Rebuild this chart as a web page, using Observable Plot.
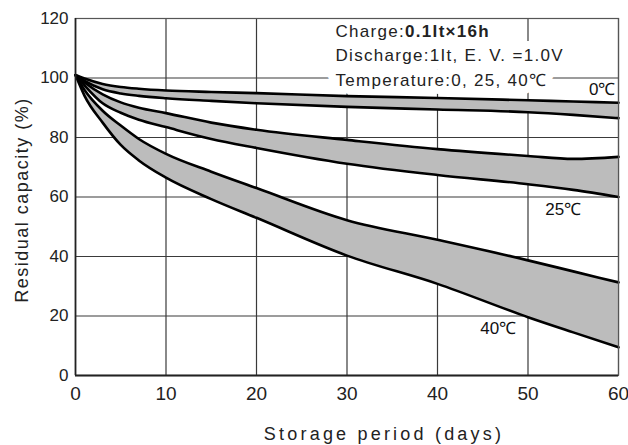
<!DOCTYPE html>
<html><head><meta charset="utf-8">
<script src="https://cdn.jsdelivr.net/npm/d3@7"></script>
<script src="https://cdn.jsdelivr.net/npm/@observablehq/plot@0.6"></script>
<style>
html,body{margin:0;padding:0;background:#fff;}
</style></head><body><div id="chart"></div>
<script>
// Storage days sampled along the curves
const days   = [0, 1, 3, 5, 7, 10, 15, 20, 30, 40, 50, 55, 60];
// Residual capacity (%) — upper / lower envelope of each temperature band
const upper0  = [101, 99.8, 98.0, 97.0, 96.4, 95.8, 95.3, 94.9, 93.9, 93.3, 92.5, 92.1, 91.7];
const lower0  = [101, 99.0, 96.2, 94.8, 94.0, 93.2, 92.3, 91.5, 90.3, 89.4, 88.5, 87.6, 86.5];
const upper25 = [101, 98.5, 94.5, 91.8, 90.0, 88.2, 85.0, 82.6, 79.2, 76.1, 73.8, 72.8, 73.5];
const lower25 = [101, 97.5, 91.5, 88.3, 86.0, 83.5, 79.5, 76.5, 71.2, 67.4, 64.3, 62.4, 60.0];
const upper40 = [101, 96.0, 89.0, 84.0, 79.5, 74.5, 68.5, 63.0, 52.2, 45.6, 38.7, 35.0, 31.3];
const lower40 = [101, 94.0, 85.0, 77.5, 72.3, 66.5, 59.3, 53.0, 40.3, 30.8, 19.6, 14.5, 9.5];

const bandNames   = ["0℃", "25℃", "40℃"];
const labelDays   = [58.2, 53.9, 46.7];
const labelValues = [96.2, 55.8, 15.8];

const xTicks = [0, 10, 20, 30, 40, 50, 60];
const yTicks = [0, 20, 40, 60, 80, 100, 120];

const noteLines = ["Charge:", "Discharge:1It, E. V. =1.0V", "Temperature:0, 25, 40℃"];
const noteBold = "0.1It×16h";

const bands = [
  {name: bandNames[0], hi: upper0,  lo: lower0},
  {name: bandNames[1], hi: upper25, lo: lower25},
  {name: bandNames[2], hi: upper40, lo: lower40}
];
const areaRows = bands.flatMap(b => days.map((d, i) => ({day: d, band: b.name, hi: b.hi[i], lo: b.lo[i]})));
const lineRows = bands.flatMap(b => [["hi", b.hi], ["lo", b.lo]].flatMap(([k, arr]) =>
  days.map((d, i) => ({day: d, key: b.name + k, v: arr[i]}))));
const labelRows = bandNames.map((n, i) => ({name: n, day: labelDays[i], v: labelValues[i]}));

const font = "'Liberation Sans', Arial, Helvetica, sans-serif";
const noteSize = 17, noteLS = 1.3;
const ctx = document.createElement("canvas").getContext("2d");
ctx.font = `${noteSize}px ${font}`;
const chargeW = ctx.measureText(noteLines[0]).width + noteLines[0].length * noteLS;

const noteDy = [13, 37.5, 62];
const noteMarks = (extra) => [
  ...noteLines.map((s, i) => Plot.text([s], {frameAnchor: "top-left", dx: 260, dy: noteDy[i],
    lineAnchor: "middle", textAnchor: "start", fontSize: noteSize, ...extra})),
  Plot.text([noteBold], {frameAnchor: "top-left", dx: 260 + chargeW, dy: noteDy[0],
    lineAnchor: "middle", textAnchor: "start", fontSize: noteSize, fontWeight: "bold", ...extra})
];
const halo = {fill: "white", stroke: "white", strokeWidth: 16, strokeLinejoin: "round", paintOrder: "stroke"};

const svg = Plot.plot({
  width: 628, height: 445,
  marginLeft: 75, marginRight: 10, marginTop: 18, marginBottom: 70,
  style: {fontFamily: font, background: "#fff", color: "#222"},
  x: {domain: [0, 60], label: null},
  y: {domain: [0, 120], label: null},
  marks: [
    Plot.gridX(xTicks, {stroke: "#3a3a3a", strokeOpacity: 1, strokeWidth: 1.2}),
    Plot.gridY(yTicks, {stroke: "#3a3a3a", strokeOpacity: 1, strokeWidth: 1.2}),
    ...noteMarks(halo),
    ...noteMarks({fill: "#222"}),
    Plot.areaY(areaRows, {x: "day", y1: "lo", y2: "hi", z: "band", fill: "#bcbcbc", curve: "monotone-x"}),
    Plot.line(lineRows, {x: "day", y: "v", z: "key", stroke: "#000", strokeWidth: 2.6, curve: "monotone-x"}),
    Plot.frame({stroke: "#555", strokeWidth: 1.2}),
    Plot.ruleY([yTicks[0]], {stroke: "#222", strokeWidth: 2}),
    Plot.ruleX([xTicks[0]], {stroke: "#222", strokeWidth: 1.6}),
    Plot.axisX({ticks: xTicks, tickSize: 0, tickPadding: 11, fontSize: 19, label: null}),
    Plot.axisY({ticks: yTicks, tickSize: 0, tickPadding: 7, fontSize: 17, label: null}),
    Plot.text(labelRows, {x: "day", y: "v", text: "name", fontSize: 17, fill: "#111"}),
    Plot.text(["Storage period (days)"], {frameAnchor: "bottom", dx: 37, dy: 59, lineAnchor: "middle",
      textAnchor: "middle", fontSize: 18, fill: "#222"}),
    Plot.text(["Residual capacity (%)"], {frameAnchor: "left", dx: -53, dy: 3, rotate: -90,
      textAnchor: "middle", lineAnchor: "middle", fontSize: 18, fill: "#222"})
  ]
});
document.getElementById("chart").append(svg);
svg.querySelectorAll("text").forEach(t => {
  const s = t.textContent;
  if (s.startsWith("Storage")) t.style.letterSpacing = "3.2px";
  else if (s.startsWith("Residual")) t.style.letterSpacing = "1.5px";
  else if (noteLines.includes(s) || s === noteBold) t.style.letterSpacing = noteLS + "px";
});
</script></body></html>
